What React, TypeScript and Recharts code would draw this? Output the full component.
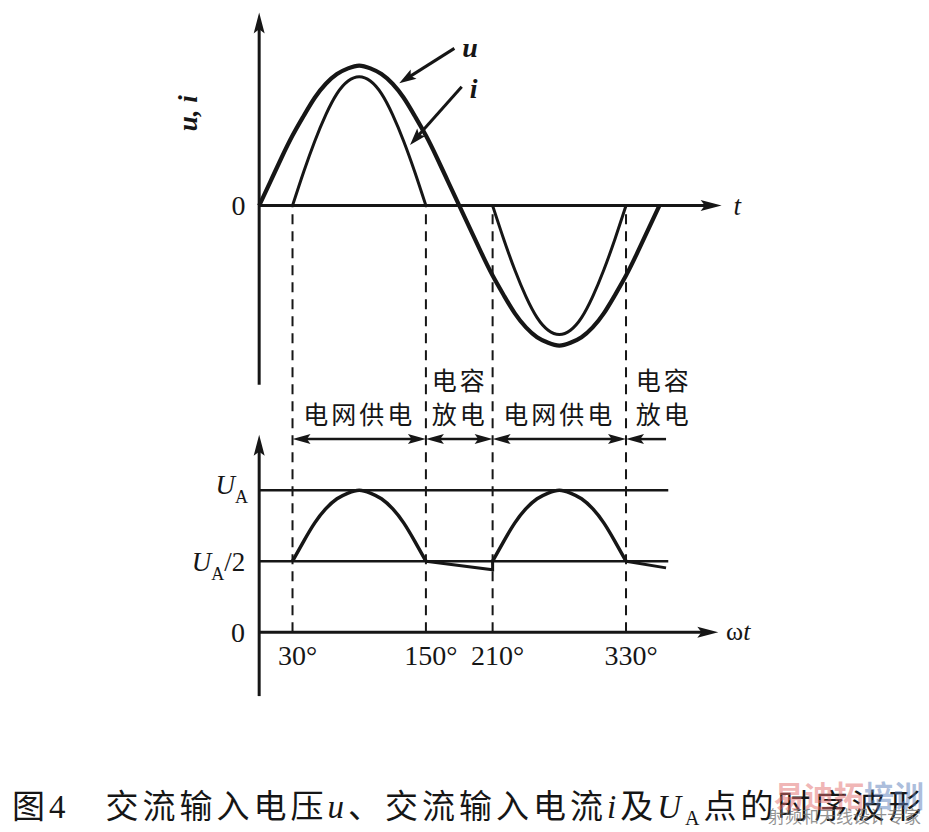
import React from 'react';
import { ComposedChart, Line, XAxis, YAxis, ReferenceLine, ReferenceDot } from 'recharts';

// phase angle in degrees, one sample every 10°
const degrees = [0, 10, 20, 30, 40, 50, 60, 70, 80, 90, 100, 110, 120, 130, 140, 150, 160, 170, 180, 190, 200, 210, 220, 230, 240, 250, 260, 270, 280, 290, 300, 310, 320, 330, 340, 350, 360];
// input voltage u (peak = 1)
const uValues = [0, 0.17, 0.34, 0.5, 0.64, 0.77, 0.87, 0.94, 0.98, 1, 0.98, 0.94, 0.87, 0.77, 0.64, 0.5, 0.34, 0.17, 0, -0.17, -0.34, -0.5, -0.64, -0.77, -0.87, -0.94, -0.98, -1, -0.98, -0.94, -0.87, -0.77, -0.64, -0.5, -0.34, -0.17, 0];
// input current i, only flows while the grid charges the capacitor
const iValues = [null, null, null, 0, 0.24, 0.46, 0.65, 0.8, 0.89, 0.92, 0.89, 0.8, 0.65, 0.46, 0.24, 0, null, null, null, null, null, 0, -0.24, -0.46, -0.65, -0.8, -0.89, -0.92, -0.89, -0.8, -0.65, -0.46, -0.24, 0, null, null, null];

// U_A (in units of U_A peak) while the grid supplies it
const arcDegrees = [30, 40, 50, 60, 70, 80, 90, 100, 110, 120, 130, 140, 150, 180, 210, 220, 230, 240, 250, 260, 270, 280, 290, 300, 310, 320, 330];
const arcValues = [0.5, 0.64, 0.77, 0.87, 0.94, 0.98, 1, 0.98, 0.94, 0.87, 0.77, 0.64, 0.5, null, 0.5, 0.64, 0.77, 0.87, 0.94, 0.98, 1, 0.98, 0.94, 0.87, 0.77, 0.64, 0.5];
// U_A while the capacitor discharges
const dischargeDegrees = [150, 210, 210, 270, 330, 366];
const dischargeValues = [0.5, 0.44, 0.5, null, 0.5, 0.453];

const phaseDegrees = [30, 150, 210, 330];
const levelValues = [1, 0.5];

const waveRows = degrees.map((deg, k) => ({ deg, u: uValues[k], i: iValues[k] }));
const arcRows = arcDegrees.map((deg, k) => ({ deg, ua: arcValues[k] }));
const dischargeRows = dischargeDegrees.map((deg, k) => ({ deg, ua: dischargeValues[k] }));

const SERIF = "'Liberation Serif', 'Times New Roman', serif";
const CJK = "'Noto Sans CJK SC', 'Noto Sans CJK JP', sans-serif";
const INK = '#161616';

// the top panel's zero line expressed on the bottom (U_A) axis
const TOP_ZERO_ON_UA = 3.0;

type ArrowOpts = { start?: boolean; end?: boolean; len?: number; hw?: number; sw?: number };

const arrow = ({ start = false, end = true, len = 18, hw = 5, sw = 2.5 }: ArrowOpts) => (p: any) => {
    const { x1, y1, x2, y2 } = p;
    const d = Math.hypot(x2 - x1, y2 - y1) || 1;
    const ux = (x2 - x1) / d;
    const uy = (y2 - y1) / d;
    const head = (tx: number, ty: number, sx: number, sy: number) => {
        const bx = tx - sx * len;
        const by = ty - sy * len;
        return `${tx},${ty} ${bx - sy * hw},${by + sx * hw} ${tx - sx * len * 0.8},${ty - sy * len * 0.8} ${bx + sy * hw},${by - sx * hw}`;
    };
    const ax = start ? x1 + ux * len * 0.7 : x1;
    const ay = start ? y1 + uy * len * 0.7 : y1;
    const bx = end ? x2 - ux * len * 0.7 : x2;
    const by = end ? y2 - uy * len * 0.7 : y2;
    return (
        <g>
            <line x1={ax} y1={ay} x2={bx} y2={by} stroke={INK} strokeWidth={sw} />
            {end && <polygon points={head(x2, y2, ux, uy)} fill={INK} />}
            {start && <polygon points={head(x1, y1, -ux, -uy)} fill={INK} />}
        </g>
    );
};

const label = (content: React.ReactNode, style: any) => (p: any) => (
    <text x={p.cx} y={p.cy} fill={INK} {...style}>{content}</text>
);

const serifText = { fontFamily: SERIF, fontSize: 28, textAnchor: 'middle', dominantBaseline: 'central' };
const cjkText = { fontFamily: CJK, fontSize: 25, letterSpacing: 3, textAnchor: 'middle', dominantBaseline: 'central' };

const App: React.FC = () => {
    return (
        <div style={{ position: 'absolute', left: 0, top: 0, width: 929, height: 832, background: '#fff' }}>
            <ComposedChart
                width={929}
                height={760}
                data={waveRows}
                margin={{ top: 11, right: 114, bottom: 49, left: 148 }}
            >
                <XAxis dataKey="deg" type="number" domain={[-100, 500]} allowDataOverflow hide />
                <YAxis yAxisId="ui" type="number" domain={[-3.61, 1.39]} allowDataOverflow hide />
                <YAxis yAxisId="ua" type="number" domain={[-0.555, 4.375]} allowDataOverflow hide />

                {/* phase markers running through both panels */}
                {phaseDegrees.map((d) => (
                    <ReferenceLine key={`ph-${d}`} yAxisId="ua" segment={[{ x: d, y: 0 }, { x: d, y: TOP_ZERO_ON_UA }]}
                        stroke={INK} strokeWidth={2} strokeDasharray="10 7" />
                ))}

                {/* top panel axes */}
                <ReferenceLine yAxisId="ui" segment={[{ x: 0, y: -1.28 }, { x: 0, y: 1.38 }]} shape={arrow({ len: 21, hw: 5.5, sw: 3 })} />
                <ReferenceLine yAxisId="ui" segment={[{ x: 0, y: 0 }, { x: 416, y: 0 }]} shape={arrow({ len: 21, hw: 5.5, sw: 3 })} />

                {/* bottom panel axes and levels */}
                <ReferenceLine yAxisId="ua" segment={[{ x: 0, y: -0.45 }, { x: 0, y: 1.39 }]} shape={arrow({ len: 21, hw: 5.5, sw: 3 })} />
                <ReferenceLine yAxisId="ua" segment={[{ x: 0, y: 0 }, { x: 413, y: 0 }]} shape={arrow({ len: 21, hw: 5.5, sw: 3 })} />
                {levelValues.map((v) => (
                    <ReferenceLine key={`lv-${v}`} yAxisId="ua" segment={[{ x: 0, y: v }, { x: 368, y: v }]} stroke={INK} strokeWidth={2.5} />
                ))}

                {/* supply / discharge intervals */}
                <ReferenceLine yAxisId="ua" segment={[{ x: 30, y: 1.36 }, { x: 150, y: 1.36 }]} shape={arrow({ start: true, end: true, len: 18, hw: 5, sw: 2.5 })} />
                <ReferenceLine yAxisId="ua" segment={[{ x: 150, y: 1.36 }, { x: 210, y: 1.36 }]} shape={arrow({ start: true, end: true, len: 18, hw: 5, sw: 2.5 })} />
                <ReferenceLine yAxisId="ua" segment={[{ x: 210, y: 1.36 }, { x: 330, y: 1.36 }]} shape={arrow({ start: true, end: true, len: 18, hw: 5, sw: 2.5 })} />
                <ReferenceLine yAxisId="ua" segment={[{ x: 366, y: 1.36 }, { x: 330, y: 1.36 }]} shape={arrow({ end: true, len: 18, hw: 5, sw: 2.5 })} />

                {/* pointers to the curves */}
                <ReferenceLine yAxisId="ui" segment={[{ x: 175.6, y: 1.123 }, { x: 126, y: 0.874 }]} shape={arrow({ len: 17, hw: 5.5, sw: 3 })} />
                <ReferenceLine yAxisId="ui" segment={[{ x: 182.2, y: 0.849 }, { x: 135.7, y: 0.433 }]} shape={arrow({ len: 17, hw: 5.5, sw: 3 })} />

                <Line yAxisId="ui" dataKey="u" type="natural" stroke={INK} strokeWidth={4.2} dot={false} activeDot={false} isAnimationActive={false} />
                <Line yAxisId="ui" dataKey="i" type="natural" stroke={INK} strokeWidth={3} dot={false} activeDot={false} isAnimationActive={false} />
                <Line yAxisId="ua" data={arcRows} dataKey="ua" type="natural" stroke={INK} strokeWidth={3.5} dot={false} activeDot={false} isAnimationActive={false} />
                <Line yAxisId="ua" data={dischargeRows} dataKey="ua" type="linear" stroke={INK} strokeWidth={3} dot={false} activeDot={false} isAnimationActive={false} />

                {/* top panel text */}
                <ReferenceDot yAxisId="ui" x={-64} y={0.66} r={0}
                    shape={(p: any) => (
                        <text x={p.cx} y={p.cy} transform={`rotate(-90 ${p.cx} ${p.cy})`} fill={INK}
                            fontFamily={SERIF} fontSize={27} fontStyle="italic" fontWeight="bold"
                            textAnchor="middle" dominantBaseline="central">u, i</text>
                    )} />
                <ReferenceDot yAxisId="ui" x={-18.6} y={0} r={0} shape={label('0', serifText)} />
                <ReferenceDot yAxisId="ui" x={430} y={0} r={0} shape={label('t', { ...serifText, fontSize: 27, fontStyle: 'italic' })} />
                <ReferenceDot yAxisId="ui" x={189.6} y={1.126} r={0} shape={label('u', { ...serifText, fontStyle: 'italic', fontWeight: 'bold' })} />
                <ReferenceDot yAxisId="ui" x={193} y={0.84} r={0} shape={label('i', { ...serifText, fontStyle: 'italic', fontWeight: 'bold' })} />

                {/* interval labels */}
                <ReferenceDot yAxisId="ua" x={90} y={1.544} r={0} shape={label('电网供电', cjkText)} />
                <ReferenceDot yAxisId="ua" x={270} y={1.544} r={0} shape={label('电网供电', cjkText)} />
                <ReferenceDot yAxisId="ua" x={180.5} y={1.784} r={0} shape={label('电容', cjkText)} />
                <ReferenceDot yAxisId="ua" x={180.5} y={1.544} r={0} shape={label('放电', cjkText)} />
                <ReferenceDot yAxisId="ua" x={364} y={1.784} r={0} shape={label('电容', cjkText)} />
                <ReferenceDot yAxisId="ua" x={364} y={1.544} r={0} shape={label('放电', cjkText)} />

                {/* bottom panel text */}
                <ReferenceDot yAxisId="ua" x={-19} y={0} r={0} shape={label('0', serifText)} />
                <ReferenceDot yAxisId="ua" x={-10} y={1} r={0}
                    shape={label(<><tspan fontStyle="italic">U</tspan><tspan fontSize={18} dy={9}>A</tspan></>,
                        { fontFamily: SERIF, fontSize: 27, textAnchor: 'end', dy: 4 })} />
                <ReferenceDot yAxisId="ua" x={-12.5} y={0.5} r={0}
                    shape={label(<><tspan fontStyle="italic">U</tspan><tspan fontSize={18} dy={9}>A</tspan><tspan dy={-9}>/2</tspan></>,
                        { fontFamily: SERIF, fontSize: 27, textAnchor: 'end', dy: 10 })} />
                {phaseDegrees.map((d) => (
                    <ReferenceDot key={`tk-${d}`} yAxisId="ua" x={d} y={0} r={0}
                        shape={label(`${d}°`, { fontFamily: SERIF, fontSize: 28, textAnchor: 'middle', dx: 5, dy: 33 })} />
                ))}
                <ReferenceDot yAxisId="ua" x={420} y={0} r={0}
                    shape={label(<><tspan>ω</tspan><tspan fontStyle="italic">t</tspan></>,
                        { fontFamily: SERIF, fontSize: 26, textAnchor: 'start', dy: 8 })} />
            </ComposedChart>

            {/* caption */}
            <div style={{
                position: 'absolute', left: 12, top: 784, fontSize: 33, lineHeight: '40px',
                fontFamily: CJK, color: INK, whiteSpace: 'nowrap', letterSpacing: 4,
            }}>
                图<span style={{ fontFamily: SERIF }}>4</span>
                <span style={{ display: 'inline-block', width: 36 }} />
                交流输入电压<i style={{ fontFamily: SERIF }}>u</i>、交流输入电流<i style={{ fontFamily: SERIF }}>i</i>及
                <i style={{ fontFamily: SERIF }}>U</i>
                <span style={{ fontFamily: SERIF, fontSize: 20, position: 'relative', top: 7 }}>A</span>
                点的时序波形
            </div>

            {/* publisher watermark */}
            <div style={{
                position: 'absolute', left: 774, top: 776, fontSize: 30, lineHeight: '36px', fontWeight: 'bold',
                fontFamily: CJK, whiteSpace: 'nowrap',
            }}>
                <span style={{ color: 'rgba(226, 110, 110, 0.5)' }}>易迪拓</span>
                <span style={{ color: 'rgba(90, 125, 185, 0.5)' }}>培训</span>
            </div>
            <div style={{
                position: 'absolute', left: 768, top: 806, fontSize: 17, lineHeight: '20px',
                fontFamily: CJK, color: 'rgba(110, 110, 110, 0.75)', whiteSpace: 'nowrap',
            }}>
                射频和天线设计专家
            </div>
        </div>
    );
};

export default App;
